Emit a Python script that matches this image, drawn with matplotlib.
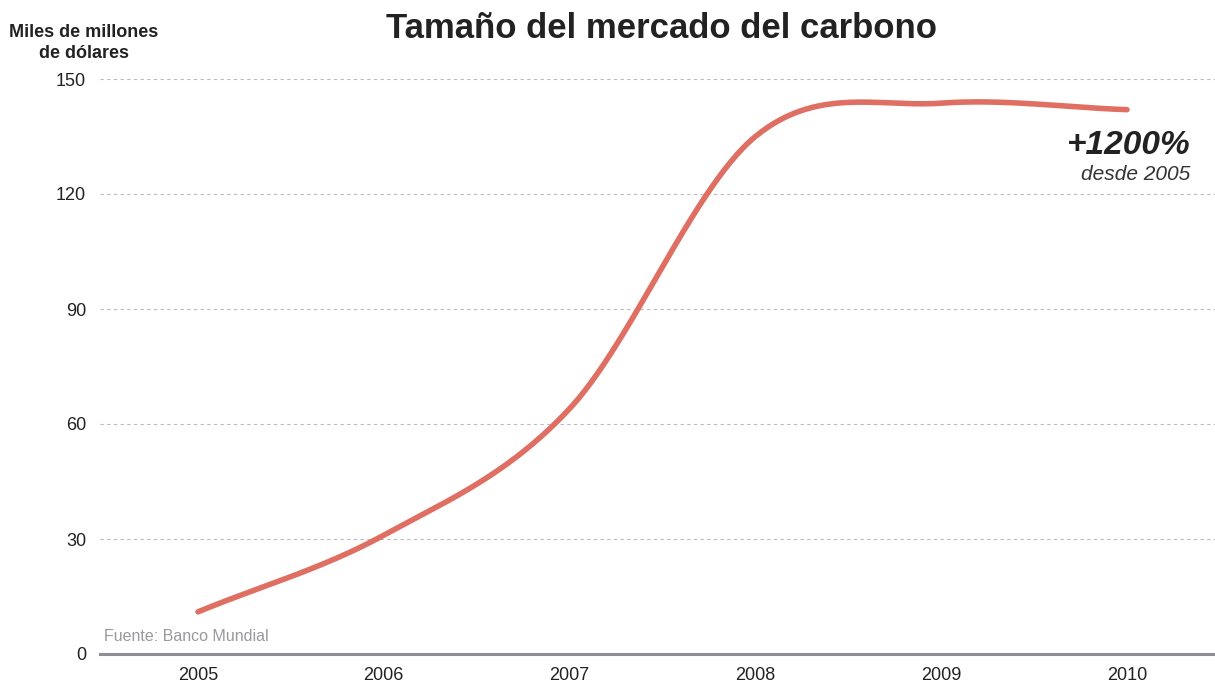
import numpy as np
import matplotlib.pyplot as plt

plt.rcParams['font.family'] = ['Liberation Sans', 'DejaVu Sans']

# data
years = [2005, 2006, 2007, 2008, 2009, 2010]
values = [11, 31, 64, 135, 143.7, 142]
yticks = [0, 30, 60, 90, 120, 150]

# catmull-rom smoothing between the points (like the original curve)
x = np.array(years, dtype=float)
y = np.array(values, dtype=float)
m = np.zeros_like(y)
m[1:-1] = (y[2:] - y[:-2]) / (x[2:] - x[:-2])
m[0] = (y[1] - y[0]) / (x[1] - x[0])
m[-1] = (y[-1] - y[-2]) / (x[-1] - x[-2])
xs, ys = [], []
for i in range(len(x) - 1):
    t = np.linspace(0, 1, 60)
    h = x[i + 1] - x[i]
    h00 = 2 * t**3 - 3 * t**2 + 1
    h10 = t**3 - 2 * t**2 + t
    h01 = -2 * t**3 + 3 * t**2
    h11 = t**3 - t**2
    xs.append(x[i] + t * h)
    ys.append(h00 * y[i] + h10 * h * m[i] + h01 * y[i + 1] + h11 * h * m[i + 1])
xs = np.concatenate(xs)
ys = np.concatenate(ys)

fig = plt.figure(figsize=(12.15, 6.85), dpi=100)
ax = fig.add_axes([100 / 1215, 1 - 654 / 685, 1 - 100 / 1215, (654 - 79) / 685])

ax.plot(xs, ys, color='#e06f63', lw=4.0, solid_capstyle='round', zorder=3)

ax.set_xlim(2005 - 98 / 185.8, 2010 + 88 / 185.8)
ax.set_ylim(0, 150)
ax.set_yticks(yticks)
ax.set_yticklabels([str(v) for v in yticks])
ax.set_xticks(years)
ax.set_xticklabels([str(v) for v in years])
ax.tick_params(length=0, labelsize=13, colors='#222222')
ax.tick_params(axis='y', pad=10)
ax.tick_params(axis='x', pad=9)
for v in yticks[1:]:
    ax.axhline(v, color='#bbbbbb', lw=0.8, ls=(0, (3, 3)), zorder=1)
for s in ['top', 'right', 'left']:
    ax.spines[s].set_visible(False)
ax.spines['bottom'].set_color('#8f8f93')
ax.spines['bottom'].set_linewidth(2.2)

fig.text(661 / 1215, 1 - 29 / 685, 'Tamaño del mercado del carbono', ha='center', va='center',
         fontsize=25, fontweight='bold', color='#222222')
fig.text(84 / 1215, 1 - 43 / 685, 'Miles de millones\nde dólares', ha='center', va='center',
         fontsize=13, fontweight='bold', color='#222222', linespacing=1.3)

ax.text(2010.34, 132.6, '+1200%', ha='right', va='center', fontsize=24,
        fontweight='bold', fontstyle='italic', color='#222222')
ax.text(2010.34, 125.0, 'desde 2005', ha='right', va='center', fontsize=15,
        fontstyle='italic', color='#333333')
ax.text(2004.495, 2.5, 'Fuente: Banco Mundial', ha='left', va='bottom', fontsize=11.5,
        color='#9a9a9e')

fig.savefig('out.png', dpi=100)
